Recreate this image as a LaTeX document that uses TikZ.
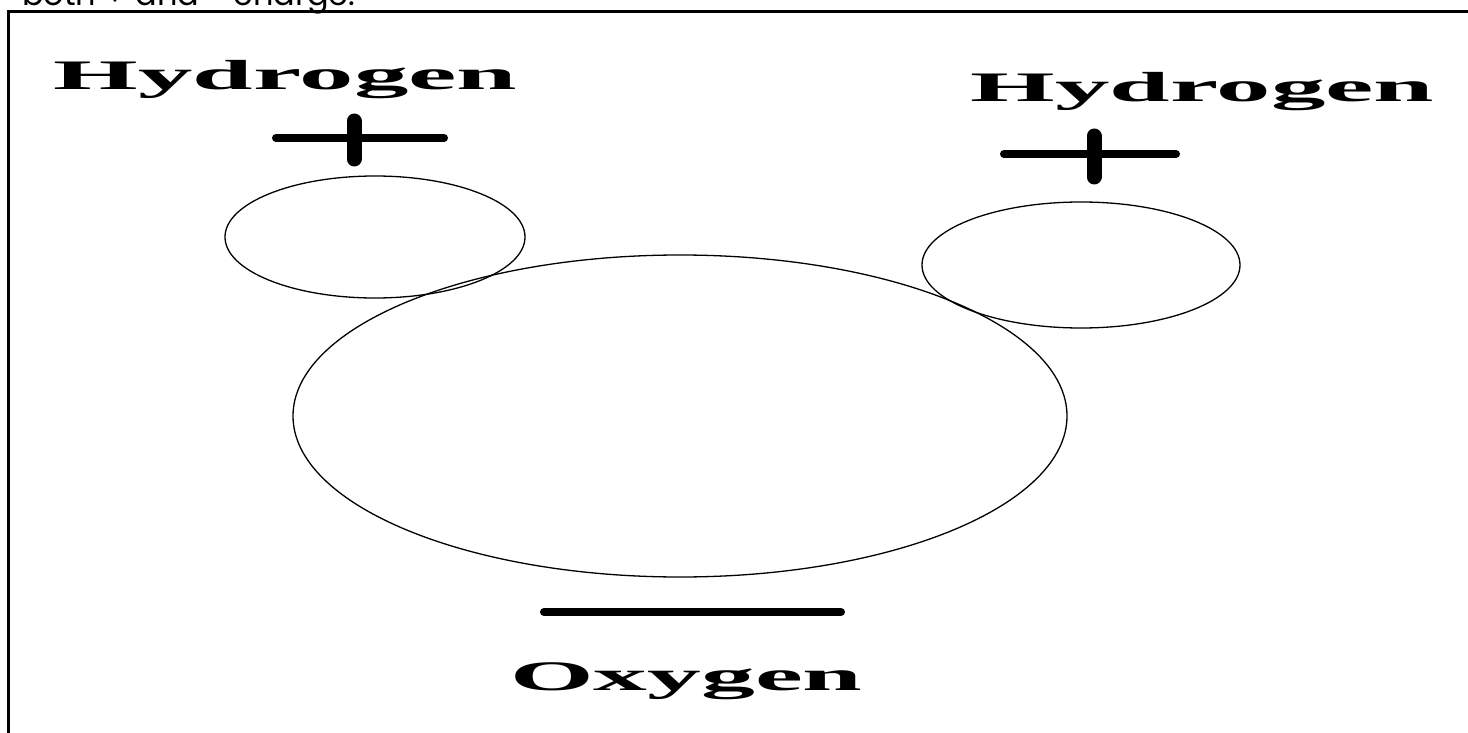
\documentclass[tikz,border=0pt]{standalone}
\usepackage{fontspec}
\setmainfont{Liberation Serif}
\newfontfamily\topfont{Poppins}
\usetikzlibrary{shapes.geometric}
\tikzset{
  atom/.style={draw, ellipse, line width=1.3pt, inner sep=0pt, outer sep=0pt},
  chargeh/.style={line width=8pt, line cap=round},
  chargev/.style={line width=15pt, line cap=round},
  label/.style={anchor=base, inner sep=0pt, font=\fontsize{42}{50}\selectfont\bfseries},
  frameline/.style={line width=3pt}
}
\begin{document}
\begin{tikzpicture}[x=1pt,y=-1pt]
\useasboundingbox (0,0) rectangle (1468,733);
\clip (0,0) rectangle (1468,733);
\fill[white] (0,0) rectangle (1468,733);
% cut-off caption at top
\node[anchor=base west, inner sep=0pt, font=\topfont\fontsize{32}{38}\selectfont] (cap) at (22,6) {both + and - charge.};
% frame
\coordinate (fTL) at (8,12);
\coordinate (fTR) at (1470,12);
\coordinate (fBL) at (8,740);
\draw[frameline] (fTR) -- (fTL) -- (fBL);
% atoms
\node[atom, minimum width=300pt, minimum height=122pt] (h1) at (375,237) {};
\node[atom, minimum width=318pt, minimum height=126pt] (h2) at (1081,265) {};
\node[atom, minimum width=774pt, minimum height=322pt] (o) at (680,416) {};
% labels
\node[label] (lh1) at (285.5,90) {\scalebox{2.59}[1]{Hydrogen}};
\node[label] (lh2) at (1202.5,102) {\scalebox{2.59}[1]{Hydrogen}};
\node[label] (lo) at (686.5,690) {\scalebox{2.56}[1]{Oxygen}};
% charges
\coordinate (p1l) at (276,138); \coordinate (p1r) at (444,138);
\coordinate (p1t) at (354,121); \coordinate (p1b) at (354,159);
\draw[chargeh] (p1l) -- (p1r);
\draw[chargev] (p1t) -- (p1b);
\coordinate (p2l) at (1004,154); \coordinate (p2r) at (1176,154);
\coordinate (p2t) at (1094,136); \coordinate (p2b) at (1094,177);
\draw[chargeh] (p2l) -- (p2r);
\draw[chargev] (p2t) -- (p2b);
\coordinate (ml) at (544,612); \coordinate (mr) at (841,612);
\draw[chargeh] (ml) -- (mr);
\end{tikzpicture}
\end{document}
